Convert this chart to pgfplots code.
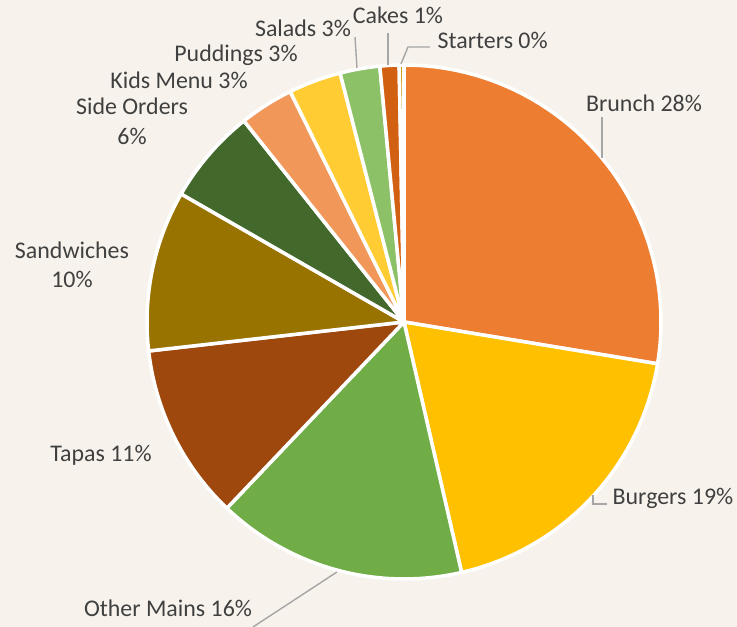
\documentclass[border=0pt]{standalone}
\usepackage{pgfplots}
\pgfplotsset{compat=1.18}
\usepackage{pgfplotstable}
\usepackage{fontspec}
\setmainfont{Carlito}

\definecolor{bg}{HTML}{F7F3EC}
\definecolor{txt}{HTML}{404040}
\definecolor{lead}{HTML}{A6A6A6}
\definecolor{cBrunch}{HTML}{ED7D31}
\definecolor{cBurgers}{HTML}{FFC000}
\definecolor{cOther}{HTML}{70AD47}
\definecolor{cTapas}{HTML}{9E480E}
\definecolor{cSandwiches}{HTML}{997300}
\definecolor{cSide}{HTML}{43682B}
\definecolor{cKids}{HTML}{F1975A}
\definecolor{cPuddings}{HTML}{FFCD33}
\definecolor{cSalads}{HTML}{8CC168}
\definecolor{cCakes}{HTML}{D26012}
\definecolor{cStarters}{HTML}{C89600}

% share of each menu section, in percent
\pgfplotstableread[col sep=comma]{
name,value,colour
Brunch,27.6,cBrunch
Burgers,18.8,cBurgers
Other Mains,15.7,cOther
Tapas,11.1,cTapas
Sandwiches,10.1,cSandwiches
Side Orders,6.0,cSide
Kids Menu,3.4,cKids
Puddings,3.3,cPuddings
Salads,2.5,cSalads
Cakes,1.2,cCakes
Starters,0.3,cStarters
}\piedata

\begin{document}
\begin{tikzpicture}[
  lab/.style={font=\fontsize{6.8}{8}\selectfont, text=txt, inner sep=0pt},
  leader/.style={draw=lead, line width=0.4pt}]
\begin{axis}[
    width=7.37cm, height=6.27cm, scale only axis,
    xmin=0, xmax=737, ymin=0, ymax=627, y dir=reverse,
    axis lines=none, xtick=\empty, ytick=\empty,
    axis background/.style={fill=bg},
  ]
  \pgfplotstablegetrowsof{\piedata}
  \pgfmathtruncatemacro{\lastrow}{\pgfplotsretval-1}
  \def\angA{90}
  \pgfplotsforeachungrouped \i in {0,...,\lastrow}{
    \pgfplotstablegetelem{\i}{value}\of\piedata
    \pgfmathsetmacro{\angB}{\angA-3.6*\pgfplotsretval}
    \pgfplotstablegetelem{\i}{colour}\of\piedata
    \let\wedgecol\pgfplotsretval
    \edef\doplot{\noexpand\addplot[fill=\wedgecol, draw=white, line width=1pt,
        line join=round, domain=\angB:\angA, samples=60]
        ({404+257*cos(x)},{322-257*sin(x)}) -- (axis cs:404,322) -- cycle;}
    \doplot
    \let\angA\angB
  }

  % leader lines
  \draw[leader] (axis cs:602,117) -- (axis cs:602,158);
  \draw[leader] (axis cs:593,495) -- (axis cs:593,504) -- (axis cs:607,504);
  \draw[leader] (axis cs:337,572) -- (axis cs:253,627);
  \draw[leader] (axis cs:388,33) -- (axis cs:388,65);
  \draw[leader] (axis cs:355,37) -- (axis cs:357,68);
  \draw[leader] (axis cs:401,64) -- (axis cs:408,47) -- (axis cs:430,47);

  % labels
  \node[lab] at (axis cs:644,103) {Brunch 28\%};
  \node[lab, anchor=west] at (axis cs:612,498) {Burgers 19\%};
  \node[lab] at (axis cs:168,608) {Other Mains 16\%};
  \node[lab] at (axis cs:101,455) {Tapas 11\%};
  \node[lab] at (axis cs:72,250) {Sandwiches};
  \node[lab] at (axis cs:72,279) {10\%};
  \node[lab] at (axis cs:132,106) {Side Orders};
  \node[lab] at (axis cs:132,136) {6\%};
  \node[lab] at (axis cs:179,80) {Kids Menu 3\%};
  \node[lab] at (axis cs:236,55) {Puddings 3\%};
  \node[lab] at (axis cs:303,28) {Salads 3\%};
  \node[lab] at (axis cs:398,15) {Cakes 1\%};
  \node[lab, anchor=west] at (axis cs:437,40) {Starters 0\%};
\end{axis}
\end{tikzpicture}
\end{document}
